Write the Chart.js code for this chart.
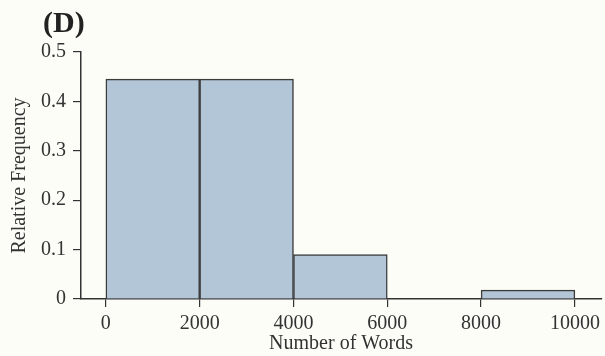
<!DOCTYPE html>
<html>
<head>
<meta charset="utf-8">
<script src="https://cdn.jsdelivr.net/npm/chart.js@4.4.1/dist/chart.umd.min.js"></script>
<style>
  html, body { margin: 0; padding: 0; background: #fdfdf8; }
  #wrap { position: relative; width: 605px; height: 356px; }
  #panel {
    position: absolute; left: 43px; top: 5px;
    font: bold 30px "Liberation Serif", "Times New Roman", serif; color: #222;
  }
</style>
</head>
<body>
<div id="wrap">
  <canvas id="hist" width="605" height="356"></canvas>
  <div id="panel">(D)</div>
</div>
<script>
const binStarts = [0, 2000, 4000, 6000, 8000];
const binWidth = 2000;
const relFreq = [0.445, 0.445, 0.09, 0, 0.018];
const xTicks = [0, 2000, 4000, 6000, 8000, 10000];
const yTicks = [0, 0.1, 0.2, 0.3, 0.4, 0.5];

const serif = '"Liberation Serif", "Times New Roman", serif';
const ink = "#333333";

const points = binStarts.map((start, i) => ({ x: start + binWidth / 2, y: relFreq[i] }));

new Chart(document.querySelector("#hist"), {
  type: "bar",
  data: {
    datasets: [
      {
        data: points,
        backgroundColor: "#b3c6d8",
        borderColor: "#3c3c3c",
        borderWidth: 1.5,
        barPercentage: 1,
        categoryPercentage: 1,
      },
    ],
  },
  options: {
    responsive: false,
    animation: false,
    layout: { padding: { top: 52, right: 2, left: 8, bottom: 0 } },
    plugins: { legend: { display: false }, tooltip: { enabled: false } },
    scales: {
      x: {
        type: "linear",
        offset: false,
        min: -530,
        max: 10560,
        afterBuildTicks: (axis) => {
          axis.ticks = xTicks.map((v) => ({ value: v }));
        },
        afterFit: (axis) => {
          axis.height = 57;
        },
        grid: { display: true, drawOnChartArea: false, drawTicks: true, tickLength: 8, offset: false, color: ink, lineWidth: 1.2 },
        border: { display: true, color: ink, width: 1.5 },
        ticks: { color: ink, padding: 5, font: { family: serif, size: 20 }, callback: (v) => String(v) },
        title: { display: true, text: "Number of Words", color: ink, padding: { top: 0, bottom: 0 }, font: { family: serif, size: 20 } },
      },
      y: {
        min: 0,
        max: 0.5,
        afterBuildTicks: (axis) => {
          axis.ticks = yTicks.map((v) => ({ value: v }));
        },
        afterFit: (axis) => {
          axis.width = 73;
        },
        grid: { display: true, drawOnChartArea: false, drawTicks: true, tickLength: 8, color: ink, lineWidth: 1.2 },
        border: { display: true, color: ink, width: 1.5 },
        ticks: { color: ink, padding: 7, font: { family: serif, size: 20 }, callback: (v) => String(v) },
        title: { display: true, text: "Relative Frequency", color: ink, padding: { top: 0, bottom: 4 }, font: { family: serif, size: 20 } },
      },
    },
  },
});
</script>
</body>
</html>
